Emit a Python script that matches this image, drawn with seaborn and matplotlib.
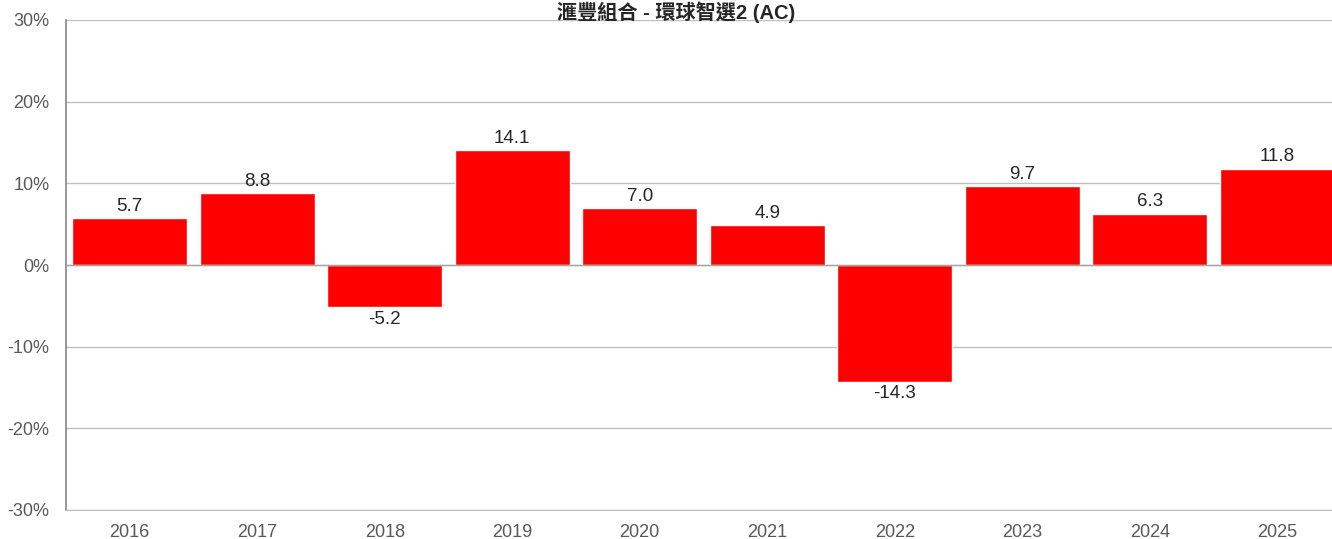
import seaborn as sns
import matplotlib.pyplot as plt
import pandas as pd
from matplotlib.ticker import FuncFormatter

years = ["2016", "2017", "2018", "2019", "2020", "2021", "2022", "2023", "2024", "2025"]
returns = [5.7, 8.8, -5.2, 14.1, 7.0, 4.9, -14.3, 9.7, 6.3, 11.8]
title = "滙豐組合 - 環球智選2 (AC)"

df = pd.DataFrame({"year": years, "ret": returns})

sns.set_style("white")
plt.rcParams['font.family'] = ['Liberation Sans', 'Noto Sans CJK TC', 'DejaVu Sans']

fig = plt.figure(figsize=(13.32, 5.39), dpi=100)
# plot area runs a little past the right edge of the image, as in the reference
ax = fig.add_axes([66 / 1332, 1 - 510 / 539, 1275 / 1332, 490 / 539])

sns.barplot(x="year", y="ret", data=df, color="#ff0000", saturation=1, width=0.9, ax=ax, zorder=3)

ax.set_xlim(-0.5, len(years) - 0.5)
ax.set_ylim(-30, 30)
ax.set_yticks(range(-30, 31, 10))
ax.yaxis.set_major_formatter(FuncFormatter(lambda v, p: f"{int(v)}%"))
ax.grid(axis="y", color="#c0c0c0", linewidth=1, zorder=0)
ax.set_axisbelow(True)
ax.axhline(0, color="#a6a6a6", linewidth=1, zorder=4)

for s in ["top", "right"]:
    ax.spines[s].set_visible(False)
ax.spines["left"].set_color("#868686")
ax.spines["left"].set_linewidth(1.2)
ax.spines["bottom"].set_color("#c0c0c0")
ax.tick_params(axis="both", length=0, colors="#595959", labelsize=13)
ax.tick_params(axis="y", pad=12)
ax.tick_params(axis="x", pad=10)
ax.set_xlabel("")
ax.set_ylabel("")

for i, v in enumerate(returns):
    if v >= 0:
        ax.text(i, v + 0.4, f"{v:.1f}", ha="center", va="bottom", fontsize=13.5, color="#262626")
    else:
        ax.text(i, v - 0.4, f"{v:.1f}", ha="center", va="top", fontsize=13.5, color="#262626")

fig.text(676 / 1332, 1 - 1 / 539, title, ha="center", va="top", fontsize=14.5,
         fontweight="bold", color="#262626", family=['Liberation Sans', 'Noto Sans CJK TC'])

fig.savefig("out.png", dpi=100)
